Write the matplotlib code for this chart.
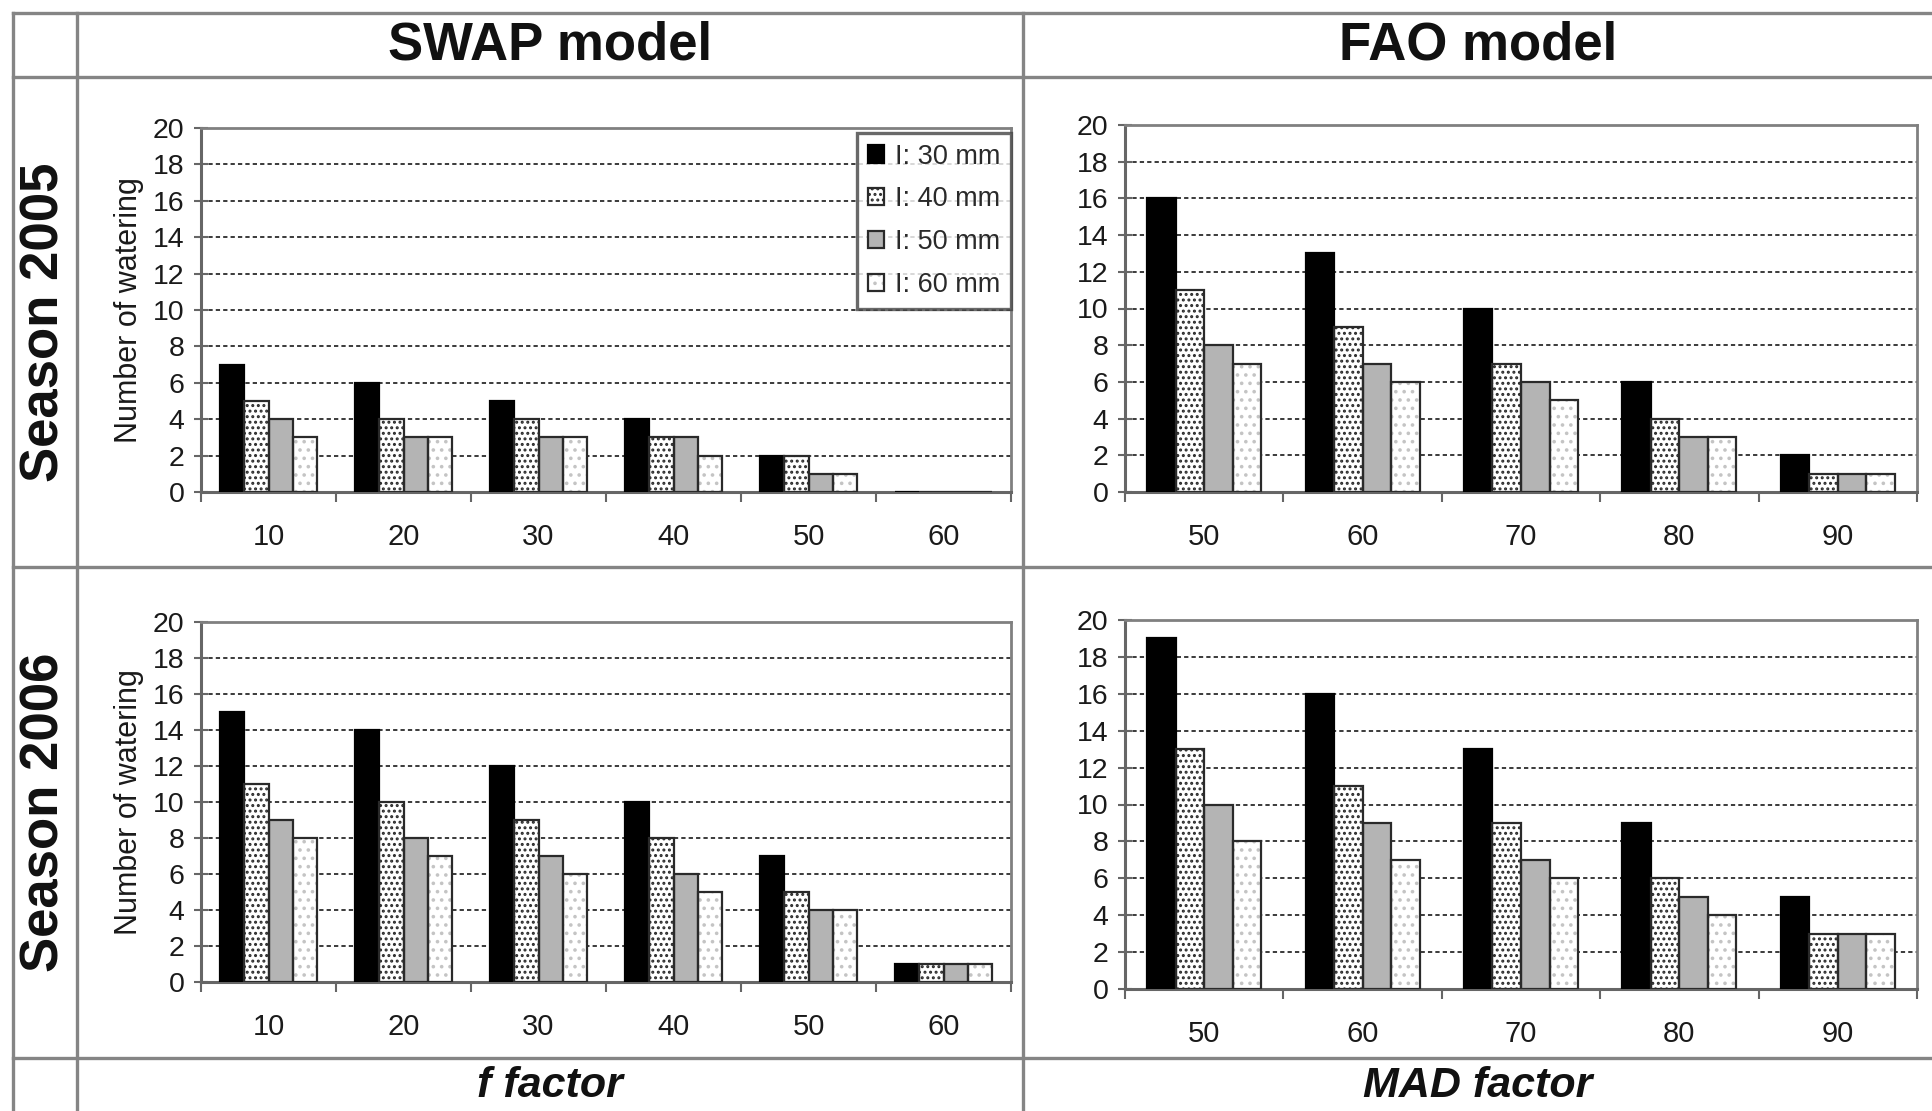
import numpy as np
import matplotlib
matplotlib.use("Agg")
import matplotlib.pyplot as plt
from matplotlib.lines import Line2D

plt.rcParams["font.family"] = ["Liberation Sans", "DejaVu Sans"]
plt.rcParams["hatch.linewidth"] = 1.4

# data
f_factor = ["10", "20", "30", "40", "50", "60"]
mad_factor = ["50", "60", "70", "80", "90"]
depths = ["I: 30 mm", "I: 40 mm", "I: 50 mm", "I: 60 mm"]

swap_2005 = [[7, 6, 5, 4, 2, 0],
             [5, 4, 4, 3, 2, 0],
             [4, 3, 3, 3, 1, 0],
             [3, 3, 3, 2, 1, 0]]
fao_2005 = [[16, 13, 10, 6, 2],
            [11, 9, 7, 4, 1],
            [8, 7, 6, 3, 1],
            [7, 6, 5, 3, 1]]
swap_2006 = [[15, 14, 12, 10, 7, 1],
             [11, 10, 9, 8, 5, 1],
             [9, 8, 7, 6, 4, 1],
             [8, 7, 6, 5, 4, 1]]
fao_2006 = [[19, 16, 13, 9, 5],
            [13, 11, 9, 6, 3],
            [10, 9, 7, 5, 3],
            [8, 7, 6, 4, 3]]

# style per irrigation depth: face, hatch, hatch colour
styles = [("black", None, "black"),
          ("white", "...", "#2a2a2a"),
          ("#b4b4b4", None, "#b4b4b4"),
          ("white", "..", "#c4c4c4")]

W, H = 1933, 1111
fig = plt.figure(figsize=(W / 100, H / 100), dpi=100)
fig.patch.set_facecolor("white")

def px_axes(l, t, r, b):
    return fig.add_axes([l / W, 1 - b / H, (r - l) / W, (b - t) / H])

def panel(ax, cats, vals, ylabel=False):
    n = len(cats)
    x = np.arange(n)
    bw = 0.18
    handles = []
    for j, (v, (fc, hatch, hc)) in enumerate(zip(vals, styles)):
        pos = x + (j - 1.5) * bw
        fill = ax.bar(pos, v, bw, color=fc, hatch=hatch, edgecolor=hc,
                      linewidth=0, zorder=3)
        edge = ax.bar(pos, v, bw, fill=False,
                      edgecolor="black" if j == 0 else "#2a2a2a",
                      linewidth=1.6, zorder=4)
        handles.append((fill.patches[0], edge.patches[0]))
    ax.set_xlim(-0.5, n - 0.5)
    ax.set_ylim(0, 20)
    ax.set_yticks(range(0, 21, 2))
    ax.set_xticks(x)
    ax.set_xticklabels(cats, fontsize=21, color="#1a1a1a")
    ax.set_xticks(np.arange(n + 1) - 0.5, minor=True)
    ax.tick_params(axis="x", which="major", length=0, pad=22)
    ax.tick_params(axis="x", which="minor", length=7, width=1.5,
                   color="#666666", direction="out")
    ax.tick_params(axis="y", labelsize=20.5, labelcolor="#1a1a1a", length=10,
                   width=1.5, color="#666666", direction="inout", pad=7)
    ax.yaxis.grid(True, linestyle=(0, (2.2, 1.6)), color="#3a3a3a",
                  linewidth=1.4, zorder=0)
    ax.set_axisbelow(True)
    for side in ["left", "bottom"]:
        ax.spines[side].set_color("#666666")
        ax.spines[side].set_linewidth(2.2)
    for side in ["top", "right"]:
        ax.spines[side].set_color("#808080")
        ax.spines[side].set_linewidth(2.0)
    if ylabel:
        ax.set_ylabel("Number of watering", fontsize=22, color="#1a1a1a",
                      labelpad=6)
    return handles

ax1 = px_axes(201, 128, 1011, 492)
ax2 = px_axes(1125, 125, 1917, 492)
ax3 = px_axes(201, 622, 1011, 982)
ax4 = px_axes(1125, 620, 1917, 989)

h = panel(ax1, f_factor, swap_2005, ylabel=True)
panel(ax2, mad_factor, fao_2005)
panel(ax3, f_factor, swap_2006, ylabel=True)
panel(ax4, mad_factor, fao_2006)

leg = ax1.legend(h, depths, loc="upper right", bbox_to_anchor=(1.0, 0.987),
                 borderaxespad=0, fontsize=19.5, frameon=True, fancybox=False,
                 handlelength=0.6, handleheight=0.6, handletextpad=0.4,
                 labelspacing=0.62, borderpad=0.4, labelcolor="#2a2a2a")
leg.get_frame().set_edgecolor("#444444")
leg.get_frame().set_linewidth(2.4)
leg.set_zorder(10)

# table frame around the panels
lc = "#858585"
lw = 2.4
for yy in [13, 77, 567, 1058]:
    fig.add_artist(Line2D([13 / W, 1], [1 - yy / H] * 2, color=lc, lw=lw))
for xx in [13, 77, 1023]:
    fig.add_artist(Line2D([xx / W] * 2, [1 - 13 / H, 0], color=lc, lw=lw))

fig.text(550 / W, 1 - 46 / H, "SWAP model", ha="center", va="center",
         fontsize=38, fontweight="bold", color="#111111")
fig.text(1478 / W, 1 - 46 / H, "FAO model", ha="center", va="center",
         fontsize=38, fontweight="bold", color="#111111")
fig.text(45 / W, 1 - 322 / H, "Season 2005", ha="center", va="center",
         rotation=90, fontsize=38, fontweight="bold", color="#111111")
fig.text(45 / W, 1 - 812 / H, "Season 2006", ha="center", va="center",
         rotation=90, fontsize=38, fontweight="bold", color="#111111")
fig.text(550 / W, 1 - 1086 / H, "f factor", ha="center", va="center",
         fontsize=31, fontweight="bold", fontstyle="italic", color="#111111")
fig.text(1478 / W, 1 - 1086 / H, "MAD factor", ha="center", va="center",
         fontsize=31, fontweight="bold", fontstyle="italic", color="#111111")

fig.savefig("out.png", dpi=100)
